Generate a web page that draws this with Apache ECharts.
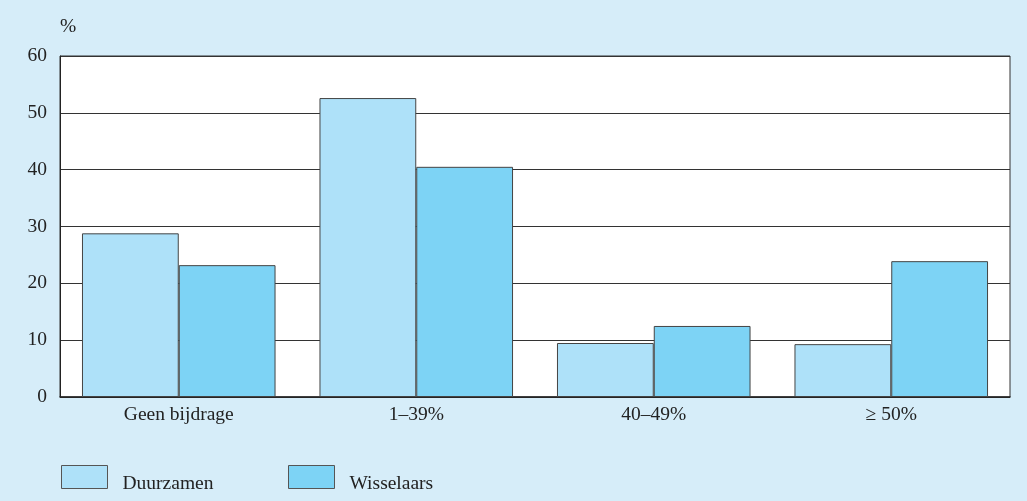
<!DOCTYPE html>
<html><head><meta charset="utf-8">
<script src="https://cdn.jsdelivr.net/npm/echarts@6/dist/echarts.min.js"></script>
<style>html,body{margin:0;padding:0;background:#d6edf9;}#c{width:1027px;height:501px;}</style>
</head><body><div id="c"></div>
<script>
const categories = ['Geen bijdrage', '1–39%', '40–49%', '≥ 50%'];
const duurzamen = [28.8, 52.6, 9.5, 9.3];
const wisselaars = [23.2, 40.5, 12.5, 23.9];
const seriesNames = ['Duurzamen', 'Wisselaars'];
const yTicks = [0, 10, 20, 30, 40, 50, 60];

const font = 'Liberation Serif, DejaVu Serif, serif';
const fs = 19.5;
const chart = echarts.init(document.getElementById('c'));
const legendCommon = {
  top: 460, itemWidth: 46, itemHeight: 23, itemGap: 0, icon: 'rect',
  itemStyle: { borderColor: '#555', borderWidth: 1 },
  formatter: '{a|{name}}',
  textStyle: { fontFamily: font, fontSize: fs, color: '#222',
    rich: { a: { fontFamily: font, fontSize: fs, color: '#222', padding: [13, 0, 0, 10] } } }
};
chart.setOption({
  backgroundColor: '#d6edf9',
  animation: false,
  textStyle: { fontFamily: font, color: '#222' },
  grid: { left: 60, right: 17, top: 56, bottom: 104, show: true, backgroundColor: '#fff', borderColor: '#333', borderWidth: 1 },
  legend: [
    Object.assign({ data: [seriesNames[0]], left: 56 }, legendCommon),
    Object.assign({ data: [seriesNames[1]], left: 283 }, legendCommon)
  ],
  xAxis: {
    type: 'category', data: categories,
    axisLine: { lineStyle: { color: '#222', width: 1.5 } },
    axisTick: { show: false },
    axisLabel: { fontFamily: font, fontSize: fs, color: '#222', margin: 8 }
  },
  yAxis: {
    type: 'value', min: yTicks[0], max: yTicks[yTicks.length - 1], interval: 10,
    name: '%', nameLocation: 'end', nameGap: 19,
    nameTextStyle: { fontFamily: font, fontSize: fs, color: '#222', align: 'left', padding: [0, 0, 0, 0] },
    axisLine: { show: true, lineStyle: { color: '#222', width: 1 } },
    axisTick: { show: false },
    splitLine: { lineStyle: { color: '#333', width: 1 } },
    axisLabel: { fontFamily: font, fontSize: fs, color: '#222', margin: 13 }
  },
  series: [
    { name: seriesNames[0], type: 'bar', data: duurzamen, barGap: '0%', barCategoryGap: '18.5%',
      itemStyle: { color: '#aee1f9', borderColor: '#444', borderWidth: 1 } },
    { name: seriesNames[1], type: 'bar', data: wisselaars, barGap: '0%', barCategoryGap: '18.5%',
      itemStyle: { color: '#7dd3f5', borderColor: '#444', borderWidth: 1 } }
  ]
});
</script></body></html>
